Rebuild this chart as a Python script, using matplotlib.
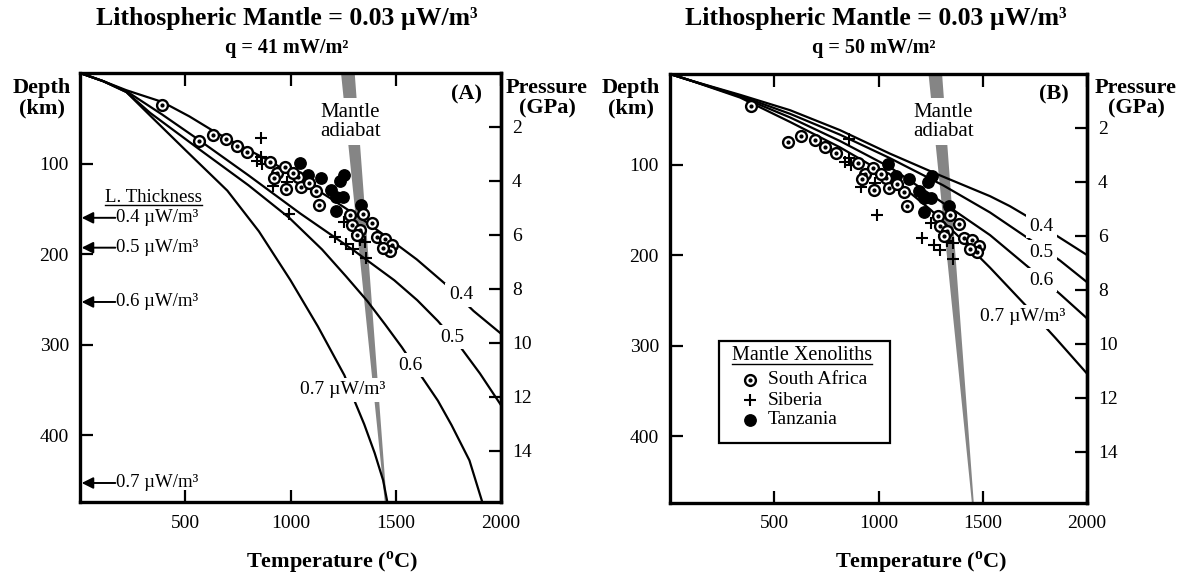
import matplotlib
matplotlib.use('Agg')
import matplotlib.pyplot as plt
from matplotlib.lines import Line2D
from matplotlib.patches import Rectangle

plt.rcParams['font.family'] = ['Liberation Serif', 'DejaVu Serif']
plt.rcParams['mathtext.fontset'] = 'custom'
plt.rcParams['mathtext.rm'] = 'Liberation Serif'
plt.rcParams['mathtext.bf'] = 'Liberation Serif:bold'

# ---------------- data ----------------
KM_PER_GPA = 29.8
DEPTH_MAX = 474
T_MAX = 2000

X_TICKS = [500, 1000, 1500, 2000]
DEPTH_TICKS = [100, 200, 300, 400]
P_TICKS = [2, 4, 6, 8, 10, 12, 14]

HP_LABELS = ['0.4', '0.5', '0.6', '0.7 µW/m³']

# Panel A geotherms (q = 41 mW/m2)
A_T_04 = [0, 110, 220, 391, 520, 633, 750, 900, 1050, 1200, 1350, 1450, 1600, 1750, 1870, 2000]
A_D_04 = [0, 9, 19, 32, 48, 64, 79, 97, 118, 140, 163, 180, 206, 236, 263, 288]
A_T_05 = [0, 110, 220, 391, 565, 800, 1045, 1300, 1493, 1602, 1700, 1811, 1900, 2000]
A_D_05 = [0, 9, 20, 46, 74, 113, 155, 196, 229, 251, 274, 304, 332, 367]
A_T_06 = [0, 110, 220, 333, 565, 800, 994, 1150, 1265, 1365, 1450, 1529, 1601, 1700, 1765, 1850, 1911]
A_D_06 = [0, 9, 21, 44, 84, 124, 160, 195, 225, 252, 278, 303, 328, 362, 389, 428, 474]
A_T_07 = [0, 110, 220, 333, 500, 700, 850, 1000, 1130, 1256, 1300, 1350, 1400, 1440, 1460]
A_D_07 = [0, 9, 21, 47, 85, 130, 175, 229, 280, 334, 360, 388, 420, 450, 474]

# Panel B geotherms (q = 50 mW/m2)
B_T_04 = [0, 96, 336, 576, 815, 1055, 1295, 1535, 1630, 1711, 1850, 2000]
B_D_04 = [0, 7, 23, 40, 62, 88, 112, 135, 146, 157, 178, 200]
B_T_05 = [0, 96, 336, 576, 815, 1055, 1310, 1535, 1727, 1870, 2000]
B_D_05 = [0, 7, 24, 44, 67, 93, 123, 153, 183, 206, 230]
B_T_06 = [0, 96, 336, 576, 815, 1055, 1358, 1535, 1727, 1870, 2000]
B_D_06 = [0, 7, 25, 48, 74, 103, 150, 178, 215, 243, 270]
B_T_07 = [0, 96, 336, 576, 815, 1055, 1250, 1400, 1535, 1703, 1850, 2000]
B_D_07 = [0, 7, 26, 53, 81, 113, 150, 183, 214, 255, 292, 331]

# Mantle adiabat band
ADIABAT_D = [0, 474]
ADIABAT_T_LEFT = [1240, 1448]
ADIABAT_T_RIGHT = [1305, 1457]

# Lithosphere thickness arrows (panel A)
LT_DEPTH = [160, 193, 253, 453]
LT_LABELS = ['0.4 µW/m³', '0.5 µW/m³', '0.6 µW/m³', '0.7 µW/m³']

# Xenolith P-T data (temperature degC, depth km)
SA_T = [388, 567, 630, 695, 745, 795, 903, 937, 976, 922, 1034, 980, 1051, 1122, 1137,
        1011, 1087, 1283, 1345, 1385, 1293, 1330, 1410, 1450, 1484, 1472, 1440, 1314]
SA_D = [35, 75, 69, 73, 81, 87, 98, 110, 104, 116, 115, 128, 126, 130, 146,
        110, 121, 157, 156, 166, 168, 174, 181, 183, 190, 197, 193, 179]
SIB_T = [860, 860, 840, 866, 916, 992, 985, 1211, 1252, 1265, 1296, 1314, 1330, 1356, 1359]
SIB_D = [72, 93, 97, 100, 125, 156, 120, 181, 165, 189, 195, 178, 184, 187, 204]
TAN_T = [1045, 1085, 1146, 1194, 1236, 1256, 1218, 1250, 1218, 1336]
TAN_D = [99, 113, 116, 129, 119, 113, 137, 137, 152, 146]

# Curve label positions (temperature, depth)
A_LABEL_T = [1810, 1767, 1568, 1249]
A_LABEL_D = [245, 292, 323, 350]
B_LABEL_T = [1783, 1783, 1783, 1693]
B_LABEL_D = [168, 197, 228, 268]

# ---------------- figure ----------------
W, H = 1194, 575
fig = plt.figure(figsize=(W / 100, H / 100), dpi=100)
fig.patch.set_facecolor('white')

axA = fig.add_axes([80 / W, 1 - 502 / H, 421 / W, 429 / H])
axB = fig.add_axes([670 / W, 1 - 503 / H, 417 / W, 429 / H])

SPINE_W = 2.4
LINE_W = 1.6
SA_MS, TAN_MS, SIB_MS = 7.8, 8.2, 8.5


def style_axes(ax):
    ax.set_xlim(0, T_MAX)
    ax.set_ylim(DEPTH_MAX, 0)
    for s in ax.spines.values():
        s.set_linewidth(SPINE_W)
    ax.set_xticks(X_TICKS)
    ax.set_xticklabels([str(v) for v in X_TICKS])
    ax.set_yticks(DEPTH_TICKS)
    ax.set_yticklabels([str(v) for v in DEPTH_TICKS])
    ax.tick_params(axis='both', direction='in', length=9, width=1.6, labelsize=14)
    ax.tick_params(axis='x', top=True, pad=9)
    ax.tick_params(axis='y', right=False, pad=8)
    sec = ax.secondary_yaxis('right', functions=(lambda d: d / KM_PER_GPA,
                                                 lambda p: p * KM_PER_GPA))
    sec.set_yticks(P_TICKS)
    sec.set_yticklabels([str(v) for v in P_TICKS])
    sec.tick_params(direction='in', length=9, width=1.6, labelsize=14, pad=8)
    for s in sec.spines.values():
        s.set_linewidth(SPINE_W)


def draw_panel(ax, curves, label_T, label_D):
    ax.fill_betweenx(ADIABAT_D, ADIABAT_T_LEFT, ADIABAT_T_RIGHT,
                     facecolor='#858585', edgecolor='none', zorder=1)
    for (t, d) in curves:
        ax.plot(t, d, color='black', lw=LINE_W, zorder=2, solid_capstyle='butt')
    ax.plot(SIB_T, SIB_D, ls='none', marker='+', ms=SIB_MS, mew=1.5, color='black', zorder=4)
    ax.plot(TAN_T, TAN_D, ls='none', marker='o', ms=TAN_MS, color='black', zorder=4)
    ax.plot(SA_T, SA_D, ls='none', marker='o', ms=SA_MS, mfc='white', mec='black',
            mew=1.7, zorder=4.2)
    ax.plot(SA_T, SA_D, ls='none', marker='o', ms=2.0, color='black', zorder=4.3)
    for lab, t, d in zip(HP_LABELS, label_T, label_D):
        ax.text(t, d, lab, ha='center', va='center', fontsize=14, zorder=6,
                bbox=dict(facecolor='white', edgecolor='none', pad=2.5))


style_axes(axA)
style_axes(axB)

draw_panel(axA, [(A_T_04, A_D_04), (A_T_05, A_D_05), (A_T_06, A_D_06), (A_T_07, A_D_07)],
           A_LABEL_T, A_LABEL_D)
draw_panel(axB, [(B_T_04, B_D_04), (B_T_05, B_D_05), (B_T_06, B_D_06), (B_T_07, B_D_07)],
           B_LABEL_T, B_LABEL_D)

# Mantle adiabat labels
axA.text(1283, 54, 'Mantle\nadiabat', ha='center', va='center', fontsize=15,
         linespacing=1.05, zorder=6, bbox=dict(facecolor='white', edgecolor='none', pad=3))
axB.text(1311, 53, 'Mantle\nadiabat', ha='center', va='center', fontsize=15,
         linespacing=1.05, zorder=6, bbox=dict(facecolor='white', edgecolor='none', pad=3))

# Panel letters
axA.text(0.919, 0.951, '(A)', transform=axA.transAxes, ha='center', va='center',
         fontsize=16, fontweight='bold')
axB.text(0.921, 0.953, '(B)', transform=axB.transAxes, ha='center', va='center',
         fontsize=16, fontweight='bold')

# Lithosphere thickness arrows (panel A)
lt_title = axA.text(350, 138, 'L. Thickness', ha='center', va='center', fontsize=13.5)
for d, lab in zip(LT_DEPTH, LT_LABELS):
    axA.annotate('', xy=(8, d), xytext=(168, d),
                 arrowprops=dict(arrowstyle='-|>', color='black', lw=1.4,
                                 mutation_scale=17, shrinkA=0, shrinkB=0))
    axA.text(170, d, lab, ha='left', va='center', fontsize=13.5)

# Legend (panel B)
axB.add_patch(Rectangle((0.1165, 0.139), 0.4105, 0.239, transform=axB.transAxes,
                        facecolor='white', edgecolor='black', lw=1.6, zorder=7))
leg_title = axB.text(0.316, 0.343, 'Mantle Xenoliths', transform=axB.transAxes,
                     ha='center', va='center', fontsize=14.5, zorder=8)
LEG_Y = [0.287, 0.240, 0.1935]
LEG_NAMES = ['South Africa', 'Siberia', 'Tanzania']
axB.plot([0.193], [LEG_Y[0]], transform=axB.transAxes, marker='o', ms=SA_MS, mfc='white',
         mec='black', mew=1.7, ls='none', zorder=8, clip_on=False)
axB.plot([0.193], [LEG_Y[0]], transform=axB.transAxes, marker='o', ms=2.0, color='black',
         ls='none', zorder=8.1, clip_on=False)
axB.plot([0.193], [LEG_Y[1]], transform=axB.transAxes, marker='+', ms=SIB_MS, mew=1.5,
         color='black', ls='none', zorder=8, clip_on=False)
axB.plot([0.193], [LEG_Y[2]], transform=axB.transAxes, marker='o', ms=TAN_MS, color='black',
         ls='none', zorder=8, clip_on=False)
for y, name in zip(LEG_Y, LEG_NAMES):
    axB.text(0.2345, y, name, transform=axB.transAxes, ha='left', va='center',
             fontsize=14, zorder=8)

# Axis titles
fig.text(332 / W, 1 - 563 / H, r'Temperature ($^{\mathbf{o}}$C)', ha='center', va='center',
         fontsize=16, fontweight='bold')
fig.text(921 / W, 1 - 563 / H, r'Temperature ($^{\mathbf{o}}$C)', ha='center', va='center',
         fontsize=16, fontweight='bold')
fig.text(42 / W, 1 - 98 / H, 'Depth\n(km)', ha='center', va='center', fontsize=16,
         fontweight='bold', linespacing=1.0)
fig.text(631 / W, 1 - 98 / H, 'Depth\n(km)', ha='center', va='center', fontsize=16,
         fontweight='bold', linespacing=1.0)
fig.text(547 / W, 1 - 98 / H, 'Pressure\n(GPa)', ha='center', va='center', fontsize=16,
         fontweight='bold', linespacing=1.0)
fig.text(1136 / W, 1 - 98 / H, 'Pressure\n(GPa)', ha='center', va='center', fontsize=16,
         fontweight='bold', linespacing=1.0)

# Titles
fig.text(287 / W, 1 - 19 / H, 'Lithospheric Mantle = 0.03 µW/m³', ha='center', va='center',
         fontsize=18.5, fontweight='bold')
fig.text(287 / W, 1 - 48 / H, 'q = 41 mW/m²', ha='center', va='center',
         fontsize=14.5, fontweight='bold')
fig.text(876 / W, 1 - 19 / H, 'Lithospheric Mantle = 0.03 µW/m³', ha='center', va='center',
         fontsize=18.5, fontweight='bold')
fig.text(874 / W, 1 - 48 / H, 'q = 50 mW/m²', ha='center', va='center',
         fontsize=14.5, fontweight='bold')

# Underlines
fig.canvas.draw()
rend = fig.canvas.get_renderer()
inv = fig.transFigure.inverted()
for t in (lt_title, leg_title):
    bb = t.get_window_extent(rend)
    (x0, y0), (x1, _) = inv.transform([(bb.x0, bb.y0 + 1.5), (bb.x1, bb.y0 + 1.5)])
    ln = Line2D([x0, x1], [y0, y0], transform=fig.transFigure, color='black', lw=1.0,
                zorder=9)
    fig.add_artist(ln)

fig.savefig('out.png', dpi=100, facecolor='white')
